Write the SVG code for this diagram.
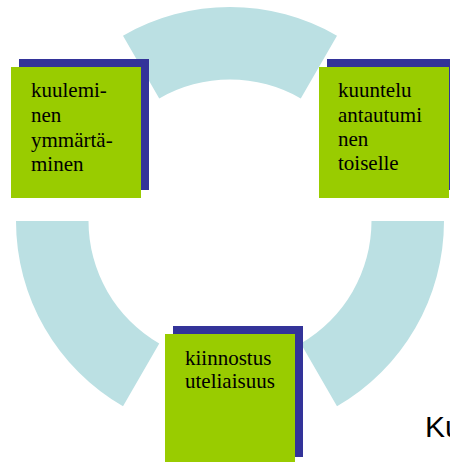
<svg xmlns="http://www.w3.org/2000/svg" width="450" height="462" viewBox="0 0 450 462">
<style>
.arc{fill:#BBE0E3;stroke:none}
.sh{fill:#333399}
.bx{fill:#99CC00}
.t{font-family:"Liberation Serif","Times New Roman",serif;font-size:21px;fill:#000}
.ku{font-family:"Liberation Sans",Arial,sans-serif;font-size:30px;fill:#000}
</style>
<rect width="450" height="462" fill="#fff"/>
<g id="connectors">
<path class="arc" d="M123,35.7 A214,214 0 0 1 337,35.7 L300.75,98.5 A141.5,141.5 0 0 0 159.25,98.5 Z"/>
<path class="arc" d="M16,221 A214,214 0 0 0 123,406.3 L159.25,343.5 A141.5,141.5 0 0 1 88.5,221 Z"/>
<path class="arc" d="M444,221 A214,214 0 0 1 337,406.3 L300.75,343.5 A141.5,141.5 0 0 0 371.5,221 Z"/>
</g>
<g id="node-kuuleminen">
<rect class="sh" x="19" y="59" width="130" height="131"/>
<rect class="bx" x="11" y="67" width="130" height="131"/>
<text class="t" x="31" y="97">kuulemi-</text>
<text class="t" x="31" y="122">nen</text>
<text class="t" x="31" y="147">ymmärtä-</text>
<text class="t" x="31" y="171">minen</text>
</g>
<g id="node-kuuntelu">
<rect class="sh" x="327" y="59" width="130" height="131"/>
<rect class="bx" x="319" y="67" width="130" height="131"/>
<text class="t" x="338" y="97">kuuntelu</text>
<text class="t" x="338" y="122">antautumi</text>
<text class="t" x="338" y="146">nen</text>
<text class="t" x="338" y="170">toiselle</text>
</g>
<g id="node-kiinnostus">
<rect class="sh" x="173" y="326" width="130" height="131"/>
<rect class="bx" x="165" y="334" width="130" height="131"/>
<text class="t" x="185" y="365">kiinnostus</text>
<text class="t" x="185" y="388">uteliaisuus</text>
</g>
<text class="ku" x="425" y="437">Ku</text>
</svg>
